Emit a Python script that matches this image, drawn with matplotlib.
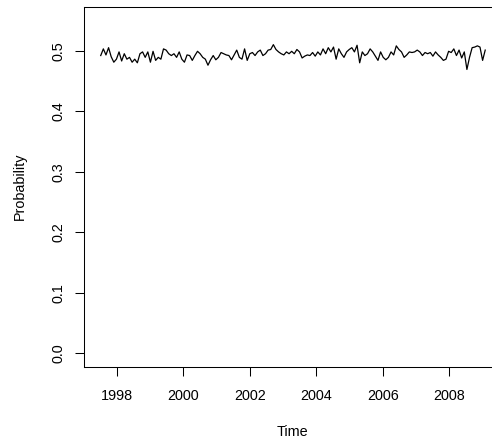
import numpy as np
import matplotlib
matplotlib.use("Agg")
import matplotlib.pyplot as plt

# monthly probability series
prob = [0.492, 0.503, 0.493, 0.505, 0.490, 0.481, 0.486, 0.498, 0.483, 0.495,
        0.486, 0.489, 0.481, 0.486, 0.480, 0.495, 0.498, 0.489, 0.498, 0.481,
        0.499, 0.484, 0.489, 0.486, 0.503, 0.501, 0.495, 0.492, 0.495, 0.489,
        0.498, 0.486, 0.481, 0.493,
        0.492, 0.484, 0.492, 0.499, 0.495, 0.489, 0.486, 0.476, 0.485, 0.492,
        0.485, 0.489, 0.497, 0.495, 0.493, 0.492, 0.485, 0.493, 0.501, 0.489,
        0.486, 0.503, 0.484, 0.495, 0.497, 0.492, 0.498, 0.501, 0.492, 0.495,
        0.501, 0.502, 0.510, 0.502, 0.498, 0.495, 0.493, 0.498,
        0.495, 0.499, 0.495, 0.502, 0.498, 0.488, 0.491, 0.493, 0.492, 0.497,
        0.491, 0.498, 0.493, 0.503, 0.495, 0.505, 0.498, 0.506, 0.486, 0.503,
        0.495, 0.489, 0.498, 0.502, 0.505, 0.498, 0.509, 0.480, 0.498, 0.492,
        0.495, 0.503, 0.498, 0.491, 0.484, 0.498, 0.489, 0.485,
        0.489, 0.498, 0.493, 0.508, 0.502, 0.498, 0.489, 0.493, 0.498, 0.497,
        0.498, 0.501, 0.498, 0.492, 0.497, 0.495, 0.497, 0.491, 0.498, 0.493,
        0.489, 0.484, 0.486, 0.499, 0.497, 0.503, 0.492, 0.501, 0.488, 0.498,
        0.469, 0.489, 0.505, 0.506, 0.508, 0.506, 0.484, 0.501]
t_start = 1997.52
t_end = 2009.08
xticks = [1998, 2000, 2002, 2004, 2006, 2008]
yticks = [0.0, 0.1, 0.2, 0.3, 0.4, 0.5]

plt.rcParams['font.family'] = ['Liberation Sans', 'DejaVu Sans']

W, H = 492, 443
fig = plt.figure(figsize=(W / 100, H / 100), dpi=100)
# box runs off the right edge of the picture, like the original
left, right, top, bottom = 84.3, 501, 6.7, 366.7
ax = fig.add_axes([left / W, 1 - bottom / H, (right - left) / W, (bottom - top) / H])

t = np.linspace(t_start, t_end, len(prob))
ax.plot(t, prob, color='black', lw=0.9)

ax.set_xlim(1997.026, 1997.026 + (right - left) / 33.26)
ax.set_ylim(-0.0221, 0.5727)
ax.set_xticks(xticks)
ax.set_xticklabels([str(x) for x in xticks])
ax.set_yticks(yticks)
ax.set_yticklabels(['%.1f' % y for y in yticks], rotation=90, va='center')
ax.tick_params(axis='both', length=6.3, width=0.75, labelsize=10.4, color='black')
ax.tick_params(axis='x', pad=9.5)
ax.tick_params(axis='y', pad=7.5)
for s in ax.spines.values():
    s.set_linewidth(0.75)

fig.text((left + right) / 2 / W, 1 - 432 / H, 'Time', ha='center', va='center', fontsize=10.4)
fig.text(20 / W, 1 - (top + bottom) / 2 / H, 'Probability', ha='center', va='center',
         rotation=90, fontsize=10.4)

fig.savefig('out.png', dpi=100)
